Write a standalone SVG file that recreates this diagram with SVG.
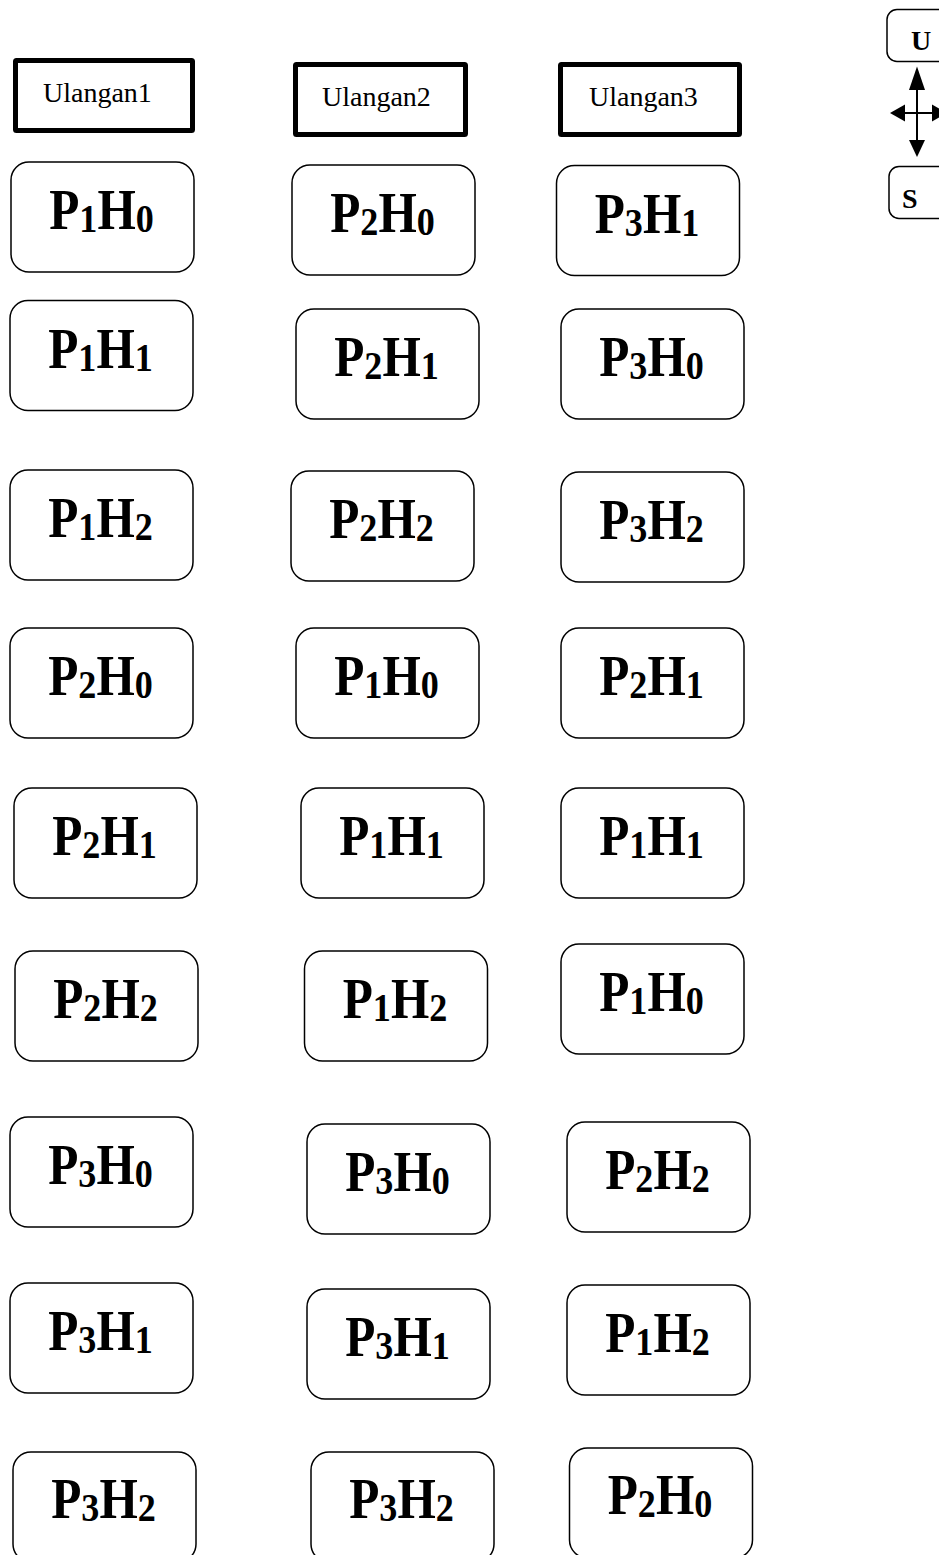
<svg xmlns="http://www.w3.org/2000/svg" width="939" height="1555" viewBox="0 0 939 1555">
<style>
.hdr{fill:#fff;stroke:#000;stroke-width:5;}
.hdrt{font-family:"Liberation Serif","Times New Roman",serif;font-size:28px;fill:#000;}
.box{fill:#fff;stroke:#000;stroke-width:1.5;}
.lbl{font-family:"Liberation Serif","Times New Roman",serif;font-weight:bold;font-size:56px;fill:#000;text-anchor:middle;}
.sub{font-size:41px;}
.cb{fill:#fff;stroke:#000;stroke-width:1.5;}
.ct{font-family:"Liberation Serif","Times New Roman",serif;font-weight:bold;font-size:28px;fill:#000;}
.ln{stroke:#000;stroke-width:2;fill:none;}
</style>
<rect width="939" height="1555" fill="#fff"/>

<g id="ulangan1"><rect class="hdr" x="15.5" y="60.5" width="177" height="70" rx="1"/><text class="hdrt" x="43" y="102">Ulangan1</text></g>
<g id="ulangan2"><rect class="hdr" x="295.5" y="64.5" width="170" height="70" rx="1"/><text class="hdrt" x="322" y="106">Ulangan2</text></g>
<g id="ulangan3"><rect class="hdr" x="560.5" y="64.5" width="179" height="70" rx="1"/><text class="hdrt" x="589" y="106">Ulangan3</text></g>

<g id="compass-u"><rect class="cb" x="887" y="9.5" width="70" height="52" rx="10"/><text class="ct" x="911" y="50">U</text></g>
<g id="compass-s"><rect class="cb" x="889" y="166.5" width="70" height="52" rx="10"/><text class="ct" x="902" y="208">S</text></g>

<g id="connectors">
<line class="ln" x1="917" y1="88" x2="917" y2="142"/>
<line class="ln" x1="903" y1="113" x2="934" y2="113"/>
<polygon points="917,66.5 909,90 925,90"/>
<polygon points="917,157 909,140 925,140"/>
<polygon points="890,113 905,104.5 905,121.5"/>
<polygon points="947,113 932,104.5 932,121.5"/>
</g>

<g id="r1c1"><rect class="box" x="11" y="162" width="183" height="110" rx="18"/><text class="lbl" transform="translate(101.5,229) scale(0.88,1)">P<tspan class="sub" dy="3">1</tspan><tspan dy="-3">H</tspan><tspan class="sub" dy="3">0</tspan></text></g>
<g id="r1c2"><rect class="box" x="292" y="165" width="183" height="110" rx="18"/><text class="lbl" transform="translate(382.5,232) scale(0.88,1)">P<tspan class="sub" dy="3">2</tspan><tspan dy="-3">H</tspan><tspan class="sub" dy="3">0</tspan></text></g>
<g id="r1c3"><rect class="box" x="556.5" y="165.5" width="183" height="110" rx="18"/><text class="lbl" transform="translate(647,232.5) scale(0.88,1)">P<tspan class="sub" dy="3">3</tspan><tspan dy="-3">H</tspan><tspan class="sub" dy="3">1</tspan></text></g>

<g id="r2c1"><rect class="box" x="10" y="300.5" width="183" height="110" rx="18"/><text class="lbl" transform="translate(100.5,367.5) scale(0.88,1)">P<tspan class="sub" dy="3">1</tspan><tspan dy="-3">H</tspan><tspan class="sub" dy="3">1</tspan></text></g>
<g id="r2c2"><rect class="box" x="296" y="309" width="183" height="110" rx="18"/><text class="lbl" transform="translate(386.5,376) scale(0.88,1)">P<tspan class="sub" dy="3">2</tspan><tspan dy="-3">H</tspan><tspan class="sub" dy="3">1</tspan></text></g>
<g id="r2c3"><rect class="box" x="561" y="309" width="183" height="110" rx="18"/><text class="lbl" transform="translate(651.5,376) scale(0.88,1)">P<tspan class="sub" dy="3">3</tspan><tspan dy="-3">H</tspan><tspan class="sub" dy="3">0</tspan></text></g>

<g id="r3c1"><rect class="box" x="10" y="470" width="183" height="110" rx="18"/><text class="lbl" transform="translate(100.5,537) scale(0.88,1)">P<tspan class="sub" dy="3">1</tspan><tspan dy="-3">H</tspan><tspan class="sub" dy="3">2</tspan></text></g>
<g id="r3c2"><rect class="box" x="291" y="471" width="183" height="110" rx="18"/><text class="lbl" transform="translate(381.5,538) scale(0.88,1)">P<tspan class="sub" dy="3">2</tspan><tspan dy="-3">H</tspan><tspan class="sub" dy="3">2</tspan></text></g>
<g id="r3c3"><rect class="box" x="561" y="472" width="183" height="110" rx="18"/><text class="lbl" transform="translate(651.5,539) scale(0.88,1)">P<tspan class="sub" dy="3">3</tspan><tspan dy="-3">H</tspan><tspan class="sub" dy="3">2</tspan></text></g>

<g id="r4c1"><rect class="box" x="10" y="628" width="183" height="110" rx="18"/><text class="lbl" transform="translate(100.5,695) scale(0.88,1)">P<tspan class="sub" dy="3">2</tspan><tspan dy="-3">H</tspan><tspan class="sub" dy="3">0</tspan></text></g>
<g id="r4c2"><rect class="box" x="296" y="628" width="183" height="110" rx="18"/><text class="lbl" transform="translate(386.5,695) scale(0.88,1)">P<tspan class="sub" dy="3">1</tspan><tspan dy="-3">H</tspan><tspan class="sub" dy="3">0</tspan></text></g>
<g id="r4c3"><rect class="box" x="561" y="628" width="183" height="110" rx="18"/><text class="lbl" transform="translate(651.5,695) scale(0.88,1)">P<tspan class="sub" dy="3">2</tspan><tspan dy="-3">H</tspan><tspan class="sub" dy="3">1</tspan></text></g>

<g id="r5c1"><rect class="box" x="14" y="788" width="183" height="110" rx="18"/><text class="lbl" transform="translate(104.5,855) scale(0.88,1)">P<tspan class="sub" dy="3">2</tspan><tspan dy="-3">H</tspan><tspan class="sub" dy="3">1</tspan></text></g>
<g id="r5c2"><rect class="box" x="301" y="788" width="183" height="110" rx="18"/><text class="lbl" transform="translate(391.5,855) scale(0.88,1)">P<tspan class="sub" dy="3">1</tspan><tspan dy="-3">H</tspan><tspan class="sub" dy="3">1</tspan></text></g>
<g id="r5c3"><rect class="box" x="561" y="788" width="183" height="110" rx="18"/><text class="lbl" transform="translate(651.5,855) scale(0.88,1)">P<tspan class="sub" dy="3">1</tspan><tspan dy="-3">H</tspan><tspan class="sub" dy="3">1</tspan></text></g>

<g id="r6c1"><rect class="box" x="15" y="951" width="183" height="110" rx="18"/><text class="lbl" transform="translate(105.5,1018) scale(0.88,1)">P<tspan class="sub" dy="3">2</tspan><tspan dy="-3">H</tspan><tspan class="sub" dy="3">2</tspan></text></g>
<g id="r6c2"><rect class="box" x="304.5" y="951" width="183" height="110" rx="18"/><text class="lbl" transform="translate(395,1018) scale(0.88,1)">P<tspan class="sub" dy="3">1</tspan><tspan dy="-3">H</tspan><tspan class="sub" dy="3">2</tspan></text></g>
<g id="r6c3"><rect class="box" x="561" y="944" width="183" height="110" rx="18"/><text class="lbl" transform="translate(651.5,1011) scale(0.88,1)">P<tspan class="sub" dy="3">1</tspan><tspan dy="-3">H</tspan><tspan class="sub" dy="3">0</tspan></text></g>

<g id="r7c1"><rect class="box" x="10" y="1117" width="183" height="110" rx="18"/><text class="lbl" transform="translate(100.5,1184) scale(0.88,1)">P<tspan class="sub" dy="3">3</tspan><tspan dy="-3">H</tspan><tspan class="sub" dy="3">0</tspan></text></g>
<g id="r7c2"><rect class="box" x="307" y="1124" width="183" height="110" rx="18"/><text class="lbl" transform="translate(397.5,1191) scale(0.88,1)">P<tspan class="sub" dy="3">3</tspan><tspan dy="-3">H</tspan><tspan class="sub" dy="3">0</tspan></text></g>
<g id="r7c3"><rect class="box" x="567" y="1122" width="183" height="110" rx="18"/><text class="lbl" transform="translate(657.5,1189) scale(0.88,1)">P<tspan class="sub" dy="3">2</tspan><tspan dy="-3">H</tspan><tspan class="sub" dy="3">2</tspan></text></g>

<g id="r8c1"><rect class="box" x="10" y="1283" width="183" height="110" rx="18"/><text class="lbl" transform="translate(100.5,1350) scale(0.88,1)">P<tspan class="sub" dy="3">3</tspan><tspan dy="-3">H</tspan><tspan class="sub" dy="3">1</tspan></text></g>
<g id="r8c2"><rect class="box" x="307" y="1289" width="183" height="110" rx="18"/><text class="lbl" transform="translate(397.5,1356) scale(0.88,1)">P<tspan class="sub" dy="3">3</tspan><tspan dy="-3">H</tspan><tspan class="sub" dy="3">1</tspan></text></g>
<g id="r8c3"><rect class="box" x="567" y="1285" width="183" height="110" rx="18"/><text class="lbl" transform="translate(657.5,1352) scale(0.88,1)">P<tspan class="sub" dy="3">1</tspan><tspan dy="-3">H</tspan><tspan class="sub" dy="3">2</tspan></text></g>

<g id="r9c1"><rect class="box" x="13" y="1452" width="183" height="110" rx="18"/><text class="lbl" transform="translate(103.5,1518) scale(0.88,1)">P<tspan class="sub" dy="3">3</tspan><tspan dy="-3">H</tspan><tspan class="sub" dy="3">2</tspan></text></g>
<g id="r9c2"><rect class="box" x="311" y="1452" width="183" height="110" rx="18"/><text class="lbl" transform="translate(401.5,1518) scale(0.88,1)">P<tspan class="sub" dy="3">3</tspan><tspan dy="-3">H</tspan><tspan class="sub" dy="3">2</tspan></text></g>
<g id="r9c3"><rect class="box" x="569.5" y="1448" width="183" height="110" rx="18"/><text class="lbl" transform="translate(660,1514) scale(0.88,1)">P<tspan class="sub" dy="3">2</tspan><tspan dy="-3">H</tspan><tspan class="sub" dy="3">0</tspan></text></g>
</svg>
